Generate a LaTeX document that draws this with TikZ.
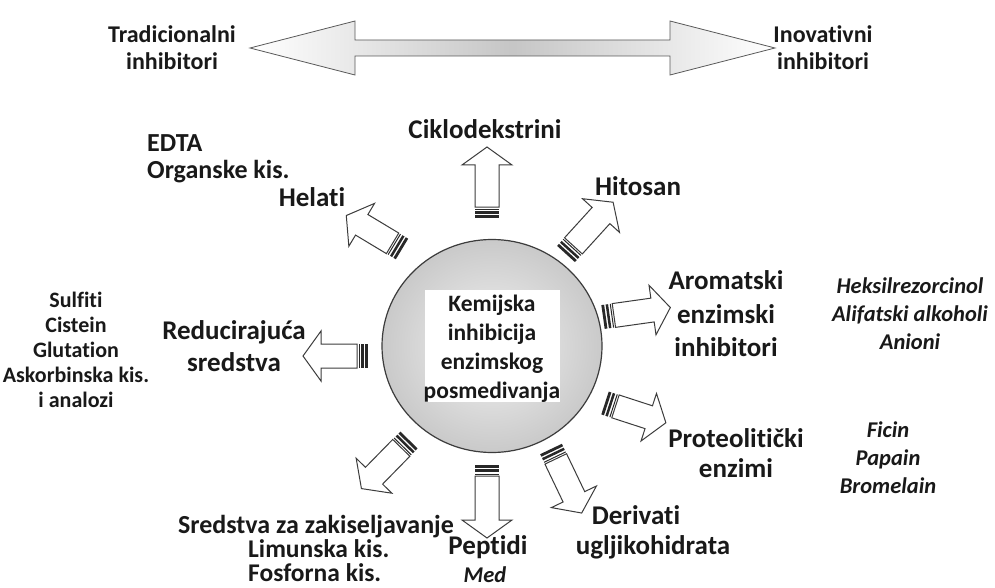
\documentclass[tikz,border=0pt]{standalone}
\usepackage{fontspec}
\setmainfont{Carlito}[Ligatures=NoCommon]
\usetikzlibrary{shapes.geometric}
\definecolor{txt}{RGB}{25,25,25}
\definecolor{edge}{RGB}{60,60,60}
\definecolor{stripecol}{RGB}{40,40,40}
\newcommand\stripearrow[5]{%
  \begin{scope}[shift={(#2,#3)}, rotate=#4]
    \coordinate (#1) at (0,0);
    \fill[stripecol] (0,-12) rectangle (2.8,12);
    \fill[stripecol] (4.3,-12) rectangle (6.8,12);
    \fill[stripecol] (8.5,-12) rectangle (9.5,12);
    \draw[arrowbody] (11,-12) -- ({#5-18},-12) -- ({#5-18},-25) -- (#5,0)
      -- ({#5-18},25) -- ({#5-18},12) -- (11,12) -- cycle;
  \end{scope}}
\begin{document}
\begin{tikzpicture}[x=1pt,y=-1pt,
  arrowbody/.style={draw=edge, fill=white, line width=1pt, line join=miter},
  toplab/.style={font=\bfseries\fontsize{24}{27}\selectfont, text=txt, align=center, inner sep=0pt},
  mainlab/.style={font=\bfseries\fontsize{27}{32}\selectfont, text=txt, align=center, inner sep=0pt},
  sidelab/.style={font=\bfseries\fontsize{26}{27}\selectfont, text=txt, align=left, inner sep=0pt},
  listlab/.style={font=\bfseries\fontsize{22}{25}\selectfont, text=txt, align=center, inner sep=0pt},
  itlab/.style={font=\bfseries\itshape\fontsize{22.5}{28}\selectfont, text=txt, align=center, inner sep=0pt},
  circtxt/.style={font=\bfseries\fontsize{23.5}{29}\selectfont, text=txt, align=center, inner sep=0pt}]
\useasboundingbox[fill=white] (0,0) rectangle (995,588);

% double arrow on top
\path[draw=gray!70!black, line width=0.8pt, left color=white, right color=white, middle color=gray!45]
  (250,48) -- (355,21) -- (355,40) -- (670,40) -- (670,21) -- (775,48)
  -- (670,75) -- (670,56) -- (355,56) -- (355,75) -- cycle;
\node[toplab] (trad) at (172,48) {Tradicionalni\\inhibitori};
\node[toplab] (inov) at (823,48) {Inovativni\\inhibitori};

% central circle
\node[ellipse, minimum width=220pt, minimum height=213pt, draw=edge, line width=1.2pt,
  inner color=gray!10, outer color=gray!42] (circ) at (492,346) {};
\node[fill=white, minimum width=135pt, minimum height=112pt, inner sep=0pt] (box) at (492.5,346) {};
\node[circtxt] (ctext) at (492,349) {Kemijska\\inhibicija\\enzimskog\\posmedivanja};

% block arrows
\stripearrow{aC}{487}{218}{90}{71}
\stripearrow{aH}{402}{249}{149}{65}
\stripearrow{aHi}{566}{254}{47.7}{70}
\stripearrow{aA}{603}{317}{8}{68}
\stripearrow{aP}{605}{403}{-18}{64}
\stripearrow{aD}{551}{449}{-64.4}{71}
\stripearrow{aPe}{487}{465}{-90}{73}
\stripearrow{aS}{409}{440}{-134.4}{68}
\stripearrow{aR}{368}{356}{180}{65}

% labels
\node[sidelab, anchor=west] (edta) at (147,159) {EDTA\\Organske kis.};
\node[mainlab] (helati) at (312,197) {Helati};
\node[mainlab] (ciklo) at (485,129) {Ciklodekstrini};
\node[mainlab] (hitosan) at (638,186) {Hitosan};
\node[mainlab, font=\bfseries\fontsize{27}{33.5}\selectfont] (arom) at (726,314) {Aromatski\\enzimski\\inhibitori};
\node[itlab] (heks) at (910,314) {Heksilrezorcinol\\Alifatski alkoholi\\Anioni};
\node[listlab] (sulf) at (76,350) {Sulfiti\\Cistein\\Glutation\\Askorbinska kis.\\i analozi};
\node[mainlab] (reduc) at (234,346) {Reducirajuća\\sredstva};
\node[mainlab, font=\bfseries\fontsize{27}{30}\selectfont] (prot) at (736,453) {Proteolitički\\enzimi};
\node[itlab] (ficin) at (888,458) {Ficin\\Papain\\Bromelain};
\node[mainlab] (deriv) at (636,515) {Derivati};
\node[mainlab] (uglj) at (653,547) {ugljikohidrata};
\node[mainlab] (pept) at (488,547) {Peptidi};
\node[itlab] (med) at (485,575) {Med};
\node[mainlab, font=\bfseries\fontsize{26}{25}\selectfont] (sred) at (316,527) {Sredstva za zakiseljavanje};
\node[mainlab, font=\bfseries\fontsize{25.5}{24}\selectfont, anchor=west, align=left] (limun) at (248,561) {Limunska kis.\\Fosforna kis.};
\end{tikzpicture}
\end{document}
